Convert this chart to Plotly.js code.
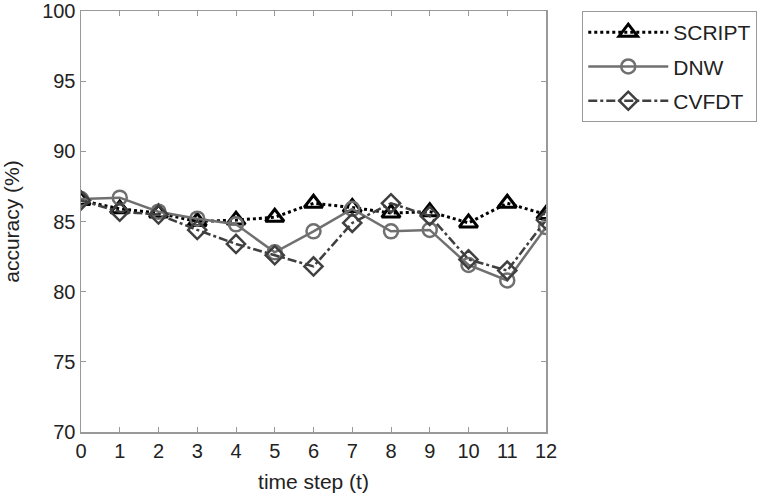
<!DOCTYPE html>
<html>
<head>
<meta charset="utf-8">
<script src="https://cdn.plot.ly/plotly-3.0.1.min.js"></script>
<style>html,body{margin:0;padding:0;background:#fff;}#chart{width:775px;height:498px;}</style>
</head>
<body>
<div id="chart"></div>
<script>
const timeSteps = [0,1,2,3,4,5,6,7,8,9,10,11,12];
const scriptAcc = [86.5,85.9,85.6,85.0,85.1,85.3,86.3,86.0,85.6,85.7,84.9,86.3,85.5];
const dnwAcc    = [86.6,86.7,85.7,85.2,84.8,82.8,84.3,85.9,84.3,84.4,81.9,80.8,84.6];
const cvfdtAcc  = [86.5,85.7,85.5,84.4,83.4,82.6,81.8,84.9,86.3,85.4,82.3,81.5,85.1];
const yTicks = [70,75,80,85,90,95,100];

const traces = [
  {x: timeSteps, y: scriptAcc, name: 'SCRIPT', mode: 'lines+markers', legendgroup: 'a',
   line: {color: '#000', width: 3, dash: 'dot'},
   marker: {symbol: 'triangle-up-open', size: 16, color: '#000', line: {width: 3, color: '#000'}}},
  {x: timeSteps, y: dnwAcc, name: 'DNW', mode: 'lines+markers', legendgroup: 'b',
   line: {color: '#707070', width: 2.5},
   marker: {symbol: 'circle-open', size: 14, color: '#707070', line: {width: 2.5, color: '#707070'}}},
  {x: timeSteps, y: cvfdtAcc, name: 'CVFDT', mode: 'lines+markers', legendgroup: 'c',
   line: {color: '#404040', width: 2.5, dash: 'dashdot'},
   marker: {symbol: 'diamond-open', size: 14, color: '#404040', line: {width: 2.5, color: '#404040'}}}
];

const layout = {
  width: 775, height: 498,
  margin: {l: 81, r: 229, t: 11, b: 66},
  paper_bgcolor: '#fff', plot_bgcolor: '#fff',
  font: {family: 'Liberation Sans, Arial, sans-serif', size: 20, color: '#222'},
  showlegend: true,
  legend: {x: 1.078, y: 1, xanchor: 'left', yanchor: 'top',
           bordercolor: '#999', borderwidth: 1, bgcolor: '#fff',
           font: {size: 21, color: '#222'}, itemwidth: 80, tracegroupgap: 4, traceorder: 'grouped'},
  xaxis: {range: [0, 12], tickvals: timeSteps, ticks: 'inside', ticklen: 5, tickcolor: '#999',
          showline: true, linecolor: '#999', linewidth: 1.5, mirror: 'ticks', showgrid: false, zeroline: false,
          title: {text: 'time step (t)', font: {size: 21}, standoff: 14}, tickfont: {size: 20}},
  yaxis: {range: [70, 100], tickvals: yTicks, ticks: 'inside', ticklen: 5, tickcolor: '#999',
          showline: true, linecolor: '#999', linewidth: 1.5, mirror: 'ticks', showgrid: false, zeroline: false,
          title: {text: 'accuracy (%)', font: {size: 21}, standoff: 17}, tickfont: {size: 20}}
};

Plotly.newPlot('chart', traces, layout, {displayModeBar: false, staticPlot: true});
</script>
</body>
</html>
